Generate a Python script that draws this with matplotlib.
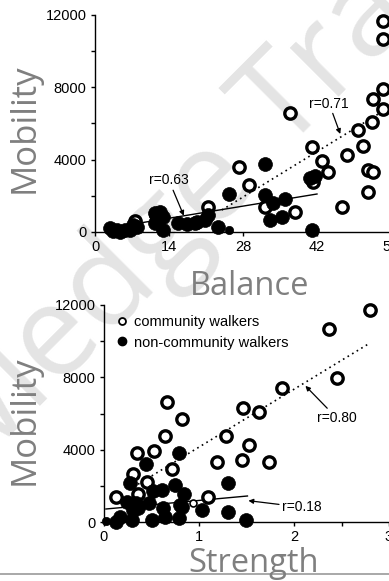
import matplotlib
matplotlib.use("Agg")
import matplotlib.pyplot as plt
from matplotlib.lines import Line2D

# ---------------- data ----------------
# Top panel: Balance vs Mobility
bal_comm_x = [54.5, 54.5, 54.5, 52.6, 54.5, 52.4, 49.8, 50.7, 47.7, 41.0, 42.9, 44.1,
              51.7, 52.6, 51.7, 46.7, 36.9, 27.3, 29.1, 37.8, 32.2, 21.4, 7.6, 41.3]
bal_comm_y = [11670, 10673, 7908, 7355, 6802, 6083, 5640, 4756, 4258, 4700, 3926, 3318,
              3429, 3318, 2212, 1382, 6581, 3595, 2599, 1106, 1382, 1382, 608, 2765]
bal_non_x = [32.2, 25.3, 32.2, 33.7, 35.9, 33.1, 35.4, 40.7, 41.6, 41.0, 23.3, 21.4,
             19.3, 17.4, 15.7, 11.4, 12.9, 11.4, 12.9, 12.3, 2.8, 4.2, 5.7, 6.6, 7.2,
             18.9, 20.8, 3.4, 4.7, 7.9, 11.6]
bal_non_y = [3760, 2101, 2046, 1604, 1825, 664, 830, 2986, 3097, 110, 276, 940,
             553, 442, 498, 1050, 830, 498, 110, 1106, 221, 110, 110, 110, 387,
             498, 664, 50, 0, 276, 940]
bal_small_x = [25.4]
bal_small_y = [110]
bal_fit_non_x = [8.5, 42.0]
bal_fit_non_y = [498, 2101]
bal_fit_comm_x = [24.0, 58.0]
bal_fit_comm_y = [1216, 7316]

# Bottom panel: Strength vs Mobility
str_comm_x = [2.80, 2.37, 2.45, 1.87, 1.46, 1.63, 0.66, 0.82, 0.64, 1.28, 1.53, 0.53,
              0.35, 1.19, 1.45, 1.74, 0.72, 0.30, 0.45, 0.13, 0.36, 1.09]
str_comm_y = [11724, 10673, 7963, 7410, 6304, 6083, 6636, 5696, 4756, 4756, 4258, 3926,
              3816, 3318, 3429, 3318, 2931, 2654, 2212, 1382, 1548, 1382]
str_comm_small_x = [0.94]
str_comm_small_y = [1050]
str_non_x = [0.79, 0.44, 0.27, 1.31, 0.75, 0.52, 0.84, 0.24, 0.34, 0.47, 0.82, 1.03,
             1.31, 1.49, 0.13, 0.29, 0.50, 0.64, 0.79, 0.62, 0.31, 0.17, 0.36, 0.61, 0.80]
str_non_y = [3816, 3207, 2157, 2157, 2046, 1714, 1548, 1106, 1050, 1050, 830, 664,
             553, 110, 0, 110, 110, 276, 221, 774, 664, 276, 774, 1770, 940]
str_small_x = [0.02]
str_small_y = [55]
str_fit_non_x = [0.02, 1.51]
str_fit_non_y = [719, 1438]
str_fit_comm_x = [0.31, 2.80]
str_fit_comm_y = [1935, 9899]

yticks_major = [0, 4000, 8000, 12000]
yticks_minor = [2000, 6000, 10000]
bal_ticks = [0, 14, 28, 42, 56]
str_ticks = [0, 1, 2, 3]
str_ticks_minor = [0.5, 1.5, 2.5]

# ---------------- figure ----------------
W, H = 389, 581
fig = plt.figure(figsize=(W / 100, H / 100), dpi=100)

def fx(px):
    return px / W

def fy(py):
    return 1 - py / H

LABEL_GRAY = "#7f7f7f"
SMALLFONT = ["Liberation Sans", "DejaVu Sans"]

# watermark (behind the axes)
wm_kw = dict(family=["Open Sans", "DejaVu Sans"], size=92, color="#e4e4e4",
             rotation=45, rotation_mode="anchor", zorder=-10)
fig.text(fx(282), fy(152), "Transfer", ha="left", va="baseline", **wm_kw)
fig.text(fx(258), fy(176), "Knowledge", ha="right", va="baseline", **wm_kw)


def style_axes(ax):
    ax.patch.set_alpha(0)
    for s in ["top", "right"]:
        ax.spines[s].set_visible(False)
    for s in ["left", "bottom"]:
        ax.spines[s].set_linewidth(1.0)
        ax.spines[s].set_color("black")
    ax.tick_params(which="both", direction="out", length=3, width=1.0,
                   labelsize=10.5, pad=3)
    for lab in ax.get_xticklabels() + ax.get_yticklabels():
        lab.set_family(SMALLFONT)


MS_OPEN = 8.2
MEW_OPEN = 2.4
MS_FILL = 10.0

def plot_open(ax, x, y, ms=MS_OPEN, mew=MEW_OPEN):
    ax.plot(x, y, linestyle="none", marker="o", ms=ms, mfc="white", mec="black",
            mew=mew, clip_on=False, zorder=3)

def plot_fill(ax, x, y, ms=MS_FILL):
    ax.plot(x, y, linestyle="none", marker="o", ms=ms, mfc="black", mec="black",
            mew=0.5, clip_on=False, zorder=4)

# ---------- top panel ----------
ax1_left, ax1_right = 95, 420
ax1 = fig.add_axes([fx(ax1_left), fy(232), (ax1_right - ax1_left) / W, (232 - 15) / H])
ax1.set_xlim(0, (ax1_right - ax1_left) / (74 / 14))
ax1.set_ylim(0, 12000)
ax1.set_xticks(bal_ticks)
ax1.set_yticks(yticks_major)
ax1.set_yticks(yticks_minor, minor=True)
ax1.set_xticklabels([str(t) for t in bal_ticks])
ax1.set_yticklabels([str(t) for t in yticks_major])
style_axes(ax1)

ax1.plot(bal_fit_non_x, bal_fit_non_y, color="black", lw=1.0, zorder=2)
ax1.plot(bal_fit_comm_x, bal_fit_comm_y, color="black", lw=1.2,
         linestyle=(0, (1, 2.2)), zorder=2, clip_on=False)
plot_open(ax1, bal_comm_x, bal_comm_y)
plot_fill(ax1, bal_non_x, bal_non_y)
plot_fill(ax1, bal_small_x, bal_small_y, ms=6)

arrow = dict(arrowstyle="-|>", color="black", lw=0.9, mutation_scale=7,
             shrinkA=0, shrinkB=0)
ax1.annotate("r=0.63", xy=(16.8, 900), xytext=(14.0, 2850),
             fontsize=10, family=SMALLFONT,
             ha="center", va="center", arrowprops=arrow, zorder=5)
ax1.annotate("r=0.71", xy=(46.4, 5420), xytext=(44.3, 7100),
             fontsize=10, family=SMALLFONT,
             ha="center", va="center", arrowprops=arrow, zorder=5)

# ---------- bottom panel ----------
ax2_left, ax2_right = 104, 420
ax2 = fig.add_axes([fx(ax2_left), fy(522), (ax2_right - ax2_left) / W, (522 - 305) / H])
ax2.set_xlim(0, (ax2_right - ax2_left) / 95)
ax2.set_ylim(0, 12000)
ax2.set_xticks(str_ticks)
ax2.set_xticks(str_ticks_minor, minor=True)
ax2.set_yticks(yticks_major)
ax2.set_yticks(yticks_minor, minor=True)
ax2.set_xticklabels([str(t) for t in str_ticks])
ax2.set_yticklabels([str(t) for t in yticks_major])
style_axes(ax2)

ax2.plot(str_fit_non_x, str_fit_non_y, color="black", lw=1.0, zorder=2)
ax2.plot(str_fit_comm_x, str_fit_comm_y, color="black", lw=1.2,
         linestyle=(0, (1, 2.2)), zorder=2)
plot_open(ax2, str_comm_x, str_comm_y)
plot_open(ax2, str_comm_small_x, str_comm_small_y, ms=5, mew=1.2)
plot_fill(ax2, str_non_x, str_non_y)
plot_fill(ax2, str_small_x, str_small_y, ms=6)

ax2.annotate("r=0.18", xy=(1.52, 1180), xytext=(2.08, 820),
             fontsize=10, family=SMALLFONT,
             ha="center", va="center", arrowprops=arrow, zorder=5)
ax2.annotate("r=0.80", xy=(2.12, 7530), xytext=(2.45, 5750),
             fontsize=10, family=SMALLFONT,
             ha="center", va="center", arrowprops=arrow, zorder=5)

# legend
legend_handles = [
    Line2D([], [], linestyle="none", marker="o", ms=5, mfc="white", mec="black", mew=1.3),
    Line2D([], [], linestyle="none", marker="o", ms=6, mfc="black", mec="black"),
]
legend_labels = ["community walkers", "non-community walkers"]
ax2.legend(legend_handles, legend_labels, loc="upper left",
           bbox_to_anchor=(fx(119), fy(315)), bbox_transform=fig.transFigure,
           frameon=False, handlelength=0.4, handletextpad=0.6, borderpad=0,
           borderaxespad=0, labelspacing=0.45,
           prop=dict(family=SMALLFONT, size=10.5))

# axis titles
big_h = dict(family=["Open Sans", "DejaVu Sans"], size=23.5, color=LABEL_GRAY)
fig.text(fx(250), fy(295), "Balance", ha="center", va="baseline", **big_h)
fig.text(fx(254), fy(572), "Strength", ha="center", va="baseline", **big_h)
big_v = dict(family=["Open Sans", "DejaVu Sans"], size=25, color=LABEL_GRAY,
             rotation=90)
fig.text(fx(42), fy(128), "Mobility", ha="right", va="center", **big_v)
fig.text(fx(42), fy(420), "Mobility", ha="right", va="center", **big_v)

# bottom border line
fig.add_artist(Line2D([0, 1], [fy(574), fy(574)], transform=fig.transFigure,
                      color="#9a9a9a", lw=1.2))

fig.savefig("out.png", dpi=100)
